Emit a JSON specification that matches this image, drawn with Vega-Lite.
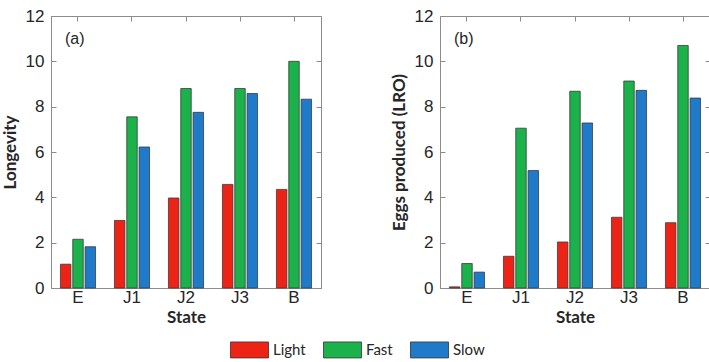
{
  "$schema": "https://vega.github.io/schema/vega-lite/v6.json",
  "background": "white",
  "padding": {"left": 0, "top": 6, "right": 2, "bottom": 2},
  "config": {
    "view": {"stroke": "#8c8c8c", "strokeWidth": 1},
    "axis": {
      "labelFont": "Liberation Sans",
      "labelFontSize": 17,
      "labelColor": "#262626",
      "titleFont": "Lato",
      "titleFontSize": 17,
      "titleFontWeight": "bold",
      "titleColor": "#262626",
      "domainColor": "#8c8c8c",
      "tickColor": "#8c8c8c",
      "grid": false
    },
    "legend": {
      "labelFont": "Lato",
      "labelFontSize": 15,
      "labelColor": "#262626"
    }
  },
  "datasets": {
    "d": [
      {"panel": "a", "state": "E", "type": "Light", "value": 1.05},
      {"panel": "a", "state": "E", "type": "Fast", "value": 2.15},
      {"panel": "a", "state": "E", "type": "Slow", "value": 1.82},
      {"panel": "a", "state": "J1", "type": "Light", "value": 2.98},
      {"panel": "a", "state": "J1", "type": "Fast", "value": 7.55},
      {"panel": "a", "state": "J1", "type": "Slow", "value": 6.22},
      {"panel": "a", "state": "J2", "type": "Light", "value": 3.97},
      {"panel": "a", "state": "J2", "type": "Fast", "value": 8.8},
      {"panel": "a", "state": "J2", "type": "Slow", "value": 7.75},
      {"panel": "a", "state": "J3", "type": "Light", "value": 4.57},
      {"panel": "a", "state": "J3", "type": "Fast", "value": 8.8},
      {"panel": "a", "state": "J3", "type": "Slow", "value": 8.58},
      {"panel": "a", "state": "B", "type": "Light", "value": 4.35},
      {"panel": "a", "state": "B", "type": "Fast", "value": 10.0},
      {"panel": "a", "state": "B", "type": "Slow", "value": 8.33},
      {"panel": "b", "state": "E", "type": "Light", "value": 0.05},
      {"panel": "b", "state": "E", "type": "Fast", "value": 1.08},
      {"panel": "b", "state": "E", "type": "Slow", "value": 0.7},
      {"panel": "b", "state": "J1", "type": "Light", "value": 1.4},
      {"panel": "b", "state": "J1", "type": "Fast", "value": 7.05},
      {"panel": "b", "state": "J1", "type": "Slow", "value": 5.18},
      {"panel": "b", "state": "J2", "type": "Light", "value": 2.03},
      {"panel": "b", "state": "J2", "type": "Fast", "value": 8.68},
      {"panel": "b", "state": "J2", "type": "Slow", "value": 7.28},
      {"panel": "b", "state": "J3", "type": "Light", "value": 3.12},
      {"panel": "b", "state": "J3", "type": "Fast", "value": 9.13},
      {"panel": "b", "state": "J3", "type": "Slow", "value": 8.72},
      {"panel": "b", "state": "B", "type": "Light", "value": 2.88},
      {"panel": "b", "state": "B", "type": "Fast", "value": 10.7},
      {"panel": "b", "state": "B", "type": "Slow", "value": 8.38}
    ]
  },
  "spacing": 67,
  "hconcat": [
    {
      "width": 270,
      "height": 272,
      "layer": [
        {
          "data": {"name": "d"},
          "transform": [{"filter": "datum.panel === 'a'"}],
          "mark": {"type": "bar", "stroke": "#3a3a3a", "strokeWidth": 0.8},
          "encoding": {
            "x": {"field": "state", "type": "nominal", "sort": ["E", "J1", "J2", "J3", "B"],
              "scale": {"paddingInner": 0.35, "paddingOuter": 0.175},
              "axis": {"title": "State", "labelAngle": 0, "tickSize": -5, "labelPadding": 6, "titlePadding": 4}},
            "xOffset": {"field": "type", "sort": ["Light", "Fast", "Slow"], "scale": {"paddingInner": 0.15}},
            "y": {"field": "value", "type": "quantitative",
              "scale": {"domain": [0, 12], "nice": false},
              "axis": {"title": "Longevity", "values": [0, 2, 4, 6, 8, 10, 12], "tickSize": -5, "labelPadding": 12, "titlePadding": 6}},
            "color": {"field": "type", "type": "nominal", "sort": ["Light", "Fast", "Slow"],
              "scale": {"domain": ["Light", "Fast", "Slow"], "range": ["#ED2415", "#1CB24B", "#1F7BC9"]},
              "legend": {"title": null, "orient": "none", "direction": "horizontal", "legendX": 188, "legendY": 323,
                "symbolType": "M-1.9,-0.8H1.9V0.8H-1.9Z", "symbolSize": 400, "symbolStrokeColor": "#333", "symbolStrokeWidth": 0.8, "columnPadding": 15, "labelOffset": 13}}
          }
        },
        {
          "data": {"name": "d"},
          "transform": [{"filter": "datum.panel === 'a'"}],
          "mark": {"type": "point", "opacity": 0},
          "encoding": {
            "x": {"field": "state", "type": "nominal", "sort": ["E", "J1", "J2", "J3", "B"],
              "axis": {"orient": "top", "title": null, "labels": false, "tickSize": -5, "domain": false}},
            "y": {"field": "value", "type": "quantitative",
              "axis": {"orient": "right", "title": null, "labels": false, "values": [0, 2, 4, 6, 8, 10, 12], "tickSize": -5, "domain": false}}
          }
        },
        {
          "data": {"values": [{"label": "(a)"}]},
          "mark": {"type": "text", "align": "left", "baseline": "middle", "dx": -13, "font": "Liberation Sans", "fontSize": 16, "color": "#262626"},
          "encoding": {
            "x": {"datum": "E", "type": "nominal", "axis": null},
            "y": {"datum": 11, "type": "quantitative", "axis": null},
            "text": {"field": "label"}
          }
        }
      ],
      "resolve": {"axis": {"x": "independent", "y": "independent"}}
    },
    {
      "width": 270,
      "height": 272,
      "layer": [
        {
          "data": {"name": "d"},
          "transform": [{"filter": "datum.panel === 'b'"}],
          "mark": {"type": "bar", "stroke": "#3a3a3a", "strokeWidth": 0.8},
          "encoding": {
            "x": {"field": "state", "type": "nominal", "sort": ["E", "J1", "J2", "J3", "B"],
              "scale": {"paddingInner": 0.35, "paddingOuter": 0.175},
              "axis": {"title": "State", "labelAngle": 0, "tickSize": -5, "labelPadding": 6, "titlePadding": 4}},
            "xOffset": {"field": "type", "sort": ["Light", "Fast", "Slow"], "scale": {"paddingInner": 0.15}},
            "y": {"field": "value", "type": "quantitative",
              "scale": {"domain": [0, 12], "nice": false},
              "axis": {"title": "Eggs produced (LRO)", "values": [0, 2, 4, 6, 8, 10, 12], "tickSize": -5, "labelPadding": 12, "titlePadding": 6}},
            "color": {"field": "type", "type": "nominal", "sort": ["Light", "Fast", "Slow"],
              "scale": {"domain": ["Light", "Fast", "Slow"], "range": ["#ED2415", "#1CB24B", "#1F7BC9"]},
              "legend": null}
          }
        },
        {
          "data": {"name": "d"},
          "transform": [{"filter": "datum.panel === 'b'"}],
          "mark": {"type": "point", "opacity": 0},
          "encoding": {
            "x": {"field": "state", "type": "nominal", "sort": ["E", "J1", "J2", "J3", "B"],
              "axis": {"orient": "top", "title": null, "labels": false, "tickSize": -5, "domain": false}},
            "y": {"field": "value", "type": "quantitative",
              "axis": {"orient": "right", "title": null, "labels": false, "values": [0, 2, 4, 6, 8, 10, 12], "tickSize": -5, "domain": false}}
          }
        },
        {
          "data": {"values": [{"label": "(b)"}]},
          "mark": {"type": "text", "align": "left", "baseline": "middle", "dx": -13, "font": "Liberation Sans", "fontSize": 16, "color": "#262626"},
          "encoding": {
            "x": {"datum": "E", "type": "nominal", "axis": null},
            "y": {"datum": 11, "type": "quantitative", "axis": null},
            "text": {"field": "label"}
          }
        }
      ],
      "resolve": {"axis": {"x": "independent", "y": "independent"}}
    }
  ]
}
